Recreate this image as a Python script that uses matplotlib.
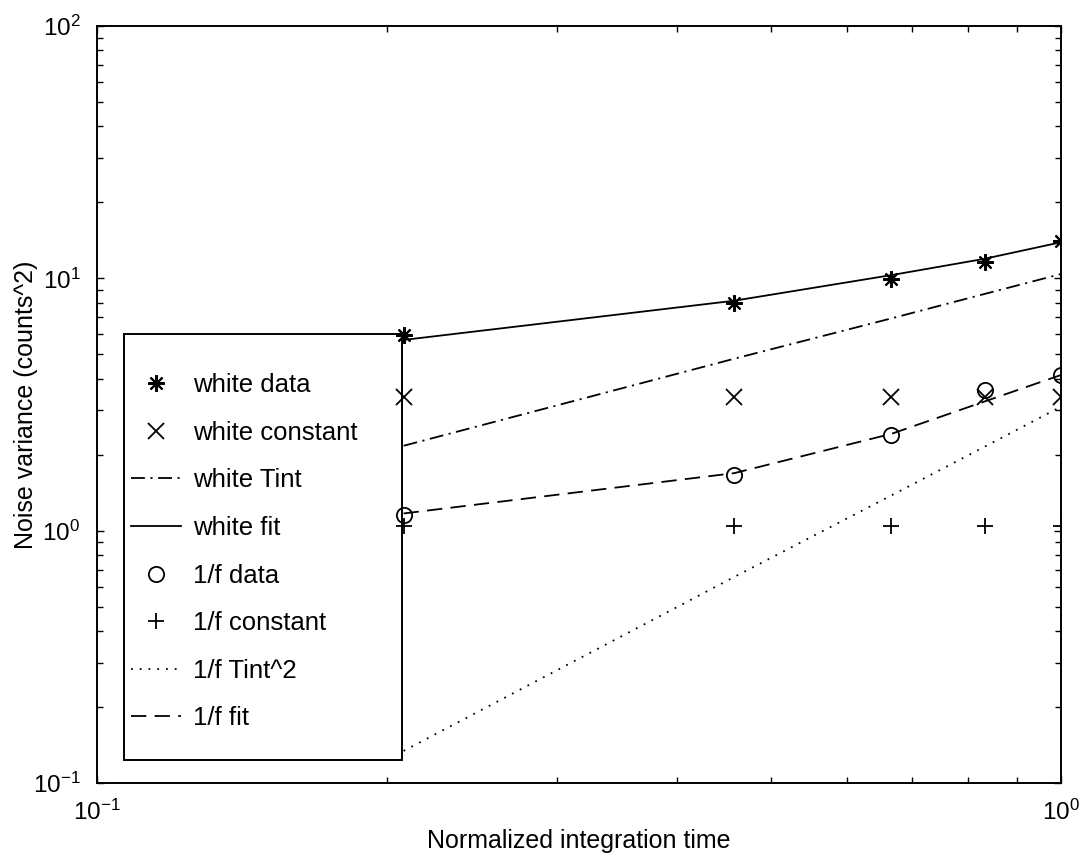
import matplotlib
matplotlib.use("Agg")
import matplotlib.pyplot as plt
from matplotlib.ticker import NullFormatter
from matplotlib.patches import Rectangle

plt.rcParams['font.family'] = ['Liberation Sans', 'DejaVu Sans']
plt.rcParams['mathtext.fontset'] = 'custom'
plt.rcParams['mathtext.rm'] = 'Liberation Sans'
plt.rcParams['mathtext.it'] = 'Liberation Sans:italic'
plt.rcParams['mathtext.bf'] = 'Liberation Sans:bold'
plt.rcParams['axes.unicode_minus'] = False
plt.rcParams['lines.scale_dashes'] = False

# ---- data ----
tint = [0.208, 0.458, 0.667, 0.833, 1.0]
white_data = [5.97, 7.99, 9.95, 11.6, 14.1]
white_constant = [3.4, 3.4, 3.4, 3.4, 3.4]
white_tint = [2.17, 4.8, 6.94, 8.67, 10.4]
white_fit = [5.7, 8.15, 10.3, 11.95, 13.9]
f_data = [1.15, 1.66, 2.40, 3.61, 4.14]
f_constant = [1.04, 1.04, 1.04, 1.04, 1.04]
f_tint2 = [0.134, 0.655, 1.38, 2.15, 3.1]
f_fit = [1.17, 1.69, 2.42, 3.25, 4.14]

xlabel = "Normalized integration time"
ylabel = "Noise variance (counts^2)"

W, H = 1086, 858
fig = plt.figure(figsize=(W / 100, H / 100), dpi=100)
L, R, T, B = 97, 1061, 26, 783
ax = fig.add_axes([L / W, 1 - B / H, (R - L) / W, (B - T) / H])

lw = 1.3
ms = 11
mew = 1.3
ax.plot(tint, white_data, linestyle='none', marker=(8, 2, 0), ms=12, color='k', mew=1.5, label='white data')
ax.plot(tint, white_constant, linestyle='none', marker='x', ms=ms, color='k', mew=mew, label='white constant')
ax.plot(tint, white_tint, linestyle=(0, (10, 4, 1.5, 4)), lw=lw, color='k', label='white Tint')
ax.plot(tint, white_fit, linestyle='-', lw=lw, color='k', label='white fit')
ax.plot(tint, f_data, linestyle='none', marker='o', ms=ms, mfc='none', color='k', mew=mew, label='1/f data')
ax.plot(tint, f_constant, linestyle='none', marker='+', ms=ms, color='k', mew=mew, label='1/f constant')
ax.plot(tint, f_tint2, linestyle=(0, (1.3, 5)), lw=lw, color='k', label='1/f Tint^2')
ax.plot(tint, f_fit, linestyle=(0, (11, 6)), lw=lw, color='k', label='1/f fit')

ax.set_xscale('log')
ax.set_yscale('log')
ax.set_xlim(0.1, 1.0)
ax.set_ylim(0.1, 100)
ax.xaxis.set_minor_formatter(NullFormatter())
ax.yaxis.set_minor_formatter(NullFormatter())

ax.set_xlabel(xlabel, fontsize=18)
ax.set_ylabel(ylabel, fontsize=18)
ax.xaxis.set_label_coords(0.5, (B - 829) / (B - T))
ax.yaxis.set_label_coords((38 - L) / (R - L), 0.5)

ax.tick_params(which='both', direction='in', top=True, right=True, labelsize=17.5)
ax.tick_params(which='major', length=5, width=1.0, pad=12)
ax.tick_params(which='minor', length=4, width=1.0)
for s in ax.spines.values():
    s.set_linewidth(1.4)

# legend frame (axes-fraction box) and legend entries inside it
frame = Rectangle(((124 - L) / (R - L), (B - 760) / (B - T)),
                  (402 - 124) / (R - L), (760 - 334) / (B - T),
                  transform=ax.transAxes, facecolor='white', edgecolor='k',
                  linewidth=1.4, zorder=1)
ax.add_patch(frame)
leg = ax.legend(loc='upper left', bbox_to_anchor=((131 - L) / (R - L), (B - 373) / (B - T)),
                borderaxespad=0, borderpad=0, frameon=False,
                fontsize=18.5, handlelength=1.95, handletextpad=0.45,
                labelspacing=0.92)
leg.set_zorder(1.5)

fig.savefig('out.png', dpi=100)
